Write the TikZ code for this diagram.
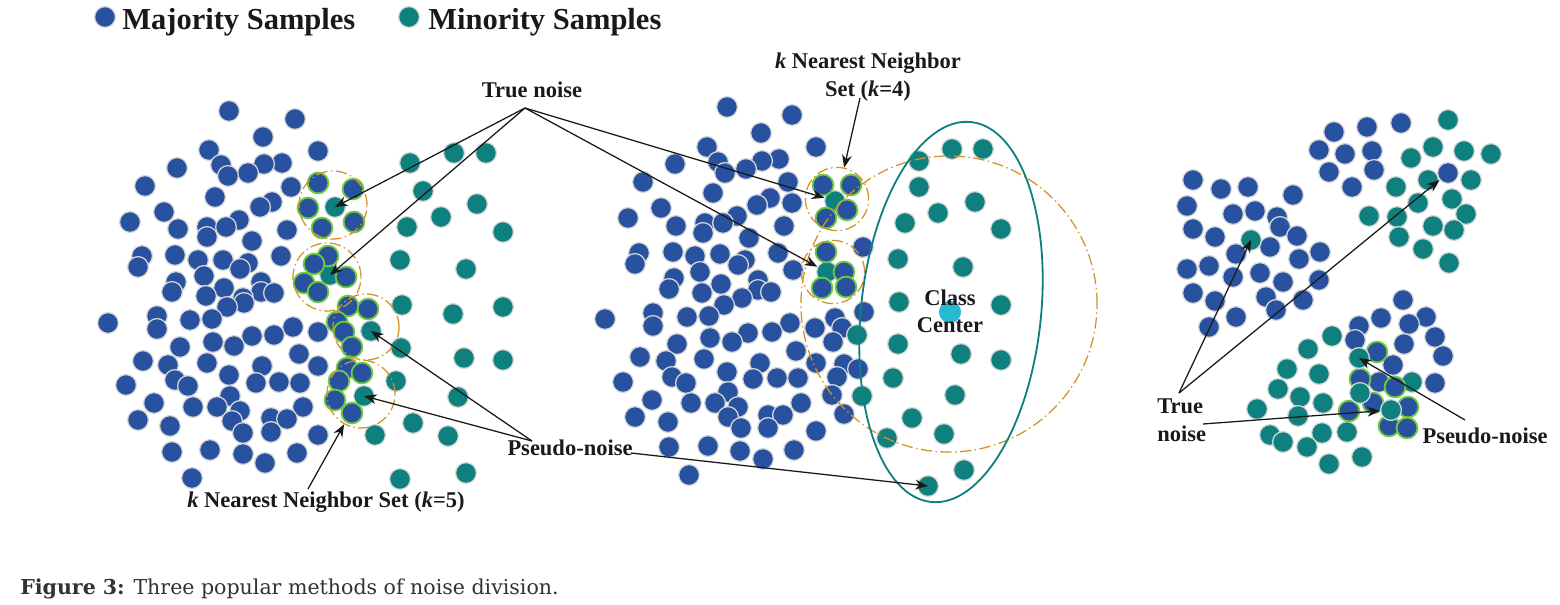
\documentclass[tikz,border=0pt]{standalone}
\usepackage{fontspec}
\setmainfont{Liberation Serif}
\newfontfamily\capfont{DejaVu Serif}
\usetikzlibrary{arrows.meta}

\definecolor{majblue}{RGB}{40,82,160}
\definecolor{minteal}{RGB}{14,128,126}
\definecolor{ringgray}{RGB}{214,214,214}
\definecolor{knngreen}{RGB}{112,200,60}
\definecolor{knnorange}{RGB}{212,146,40}
\definecolor{centercyan}{RGB}{38,186,210}
\definecolor{capgray}{RGB}{50,50,50}

\begin{document}
\begin{tikzpicture}[x=0.025cm, y=-0.025cm,
	dot/.style={circle, inner sep=0pt, minimum size=0.52cm, draw=ringgray, line width=0.9pt},
	maj/.style={dot, fill=majblue},
	mino/.style={dot, fill=minteal},
	majk/.style={dot, fill=majblue, draw=knngreen, line width=1.3pt},
	ring/.style={circle, inner sep=0pt, draw=knnorange, line width=0.9pt, dash pattern=on 8pt off 2.5pt on 1pt off 2.5pt},
	lbl/.style={font=\fontsize{16}{19}\selectfont\bfseries, text=black!90, inner sep=0pt},
	arr/.style={-{Stealth[length=9pt, width=7pt]}, line width=0.9pt, black!90}]
				\useasboundingbox (0,0) rectangle (1560,605);
				
				% legend
				\node[maj] (legmaj) at (105,17) {};
				\node[lbl, font=\fontsize{21.7}{24}\selectfont\bfseries, anchor=base west] (legmajtxt) at (122,29) {Majority Samples};
				\node[mino] (legmin) at (409,17) {};
				\node[lbl, font=\fontsize{21.7}{24}\selectfont\bfseries, anchor=base west] (legmintxt) at (428,29) {Minority Samples};
				
				% left: k nearest neighbor sets
				\foreach \x/\y in {229/111, 295/119, 263/137, 209/150, 318/151, 282/163, 264/164, 221/165, 177/168, 248/173, 228/176, 145/186, 291/187, 215/197, 272/202, 260/207, 164/212, 239/220, 130/222, 207/227, 226/227, 178/229, 287/230, 207/237, 252/241, 175/255, 142/256, 281/256, 198/260, 223/260, 248/263, 138/267, 240/269, 204/276, 176/282, 261/282, 224/288, 172/292, 261/292, 274/293, 206/296, 243/298, 244/303, 227/307, 157/316, 212/319, 190/320, 108/323, 293/327, 157/329, 318/332, 274/335, 252/336, 213/342, 234/346, 180/347, 299/354, 143/361, 207/363, 168/365, 262/366, 318/366, 229/375, 175/380, 279/382, 256/383, 300/383, 126/385, 188/386, 230/396, 154/403, 303/407, 193/407, 217/407, 240/411, 271/418, 287/419, 138/420, 232/421, 170/426, 271/432, 243/433, 318/435, 210/450, 172/452, 297/453, 243/454, 265/463, 192/478}
					\node[maj] at (\x,\y) {};
				\foreach \x/\y in {454/153, 486/153, 410/163, 423/191, 477/204, 441/217, 407/227, 503/232, 400/260, 466/269, 402/305, 503/307, 453/314, 401/348, 464/358, 503/360, 396/381, 458/397, 413/423, 375/435, 448/436, 466/473, 400/479}
					\node[mino] at (\x,\y) {};
				\node[mino] (nzL1) at (335,207) {};
				\node[mino] (nzL2) at (330,275) {};
				\node[mino] (pnL1) at (371,331) {};
				\node[mino] (pnL2) at (364,396) {};
				\foreach \x/\y in {318/183, 353/189, 308/208, 354/222, 322/228, 328/256, 314/264, 346/277, 304/283, 318/292, 348/306, 368/309, 337/322, 344/332, 352/347, 347/368, 362/373, 339/381, 335/400, 352/413}
					\node[majk] at (\x,\y) {};
				\node[ring, minimum size=1.7cm] (ringL1) at (333,205) {};
				\node[ring, minimum size=1.7cm] (ringL2) at (327,277) {};
				\node[ring, minimum size=1.65cm] (ringL3) at (366,327) {};
				\node[ring, minimum size=1.7cm] (ringL4) at (361,394) {};
				
				% middle: class center
				\foreach \x/\y in {727/107, 792/115, 761/133, 707/147, 816/147, 779/159, 762/161, 718/162, 675/164, 746/169, 725/173, 643/182, 788/182, 713/193, 770/198, 792/203, 757/205, 661/208, 737/216, 628/218, 705/223, 723/223, 676/226, 784/226, 703/233, 749/238, 863/247, 673/252, 778/253, 639/253, 720/254, 695/256, 745/260, 635/264, 738/265, 793/270, 700/272, 674/278, 758/280, 721/284, 669/289, 758/290, 771/292, 702/293, 742/298, 724/305, 864/312, 653/313, 709/316, 687/317, 835/318, 605/319, 790/323, 653/326, 815/328, 842/328, 772/332, 748/333, 710/338, 833/342, 732/342, 677/344, 796/351, 640/357, 704/359, 666/361, 760/363, 816/363, 844/364, 858/369, 727/372, 837/377, 672/377, 798/378, 777/378, 753/379, 623/382, 686/383, 728/392, 832/395, 652/400, 691/403, 715/403, 801/403, 738/407, 844/414, 768/415, 783/415, 635/417, 728/417, 668/422, 768/428, 741/428, 816/431, 708/446, 669/447, 794/450, 740/451, 763/459, 689/475}
					\node[maj] at (\x,\y) {};
				\foreach \x/\y in {952/149, 983/149, 919/161, 919/187, 975/202, 938/213, 905/223, 1001/229, 898/259, 963/267, 899/302, 1001/305, 857/335, 898/344, 961/354, 1001/360, 893/378, 955/395, 862/396, 912/418, 944/434, 887/438, 964/470}
					\node[mino] at (\x,\y) {};
				\node[mino] (nzM3) at (928,486) {};
				\node[mino] (nzM1) at (835,201) {};
				\node[mino] (nzM2) at (827,272) {};
				\foreach \x/\y in {823/185, 851/185, 847/210, 826/218, 826/252, 844/272, 822/288, 846/287}
					\node[majk] at (\x,\y) {};
				\node[dot, fill=centercyan, draw=centercyan] (center) at (950,312) {};
				\node[ring, minimum size=1.58cm] (ringM1) at (837,199) {};
				\node[ring, minimum size=1.58cm] (ringM2) at (833,272) {};
				\node[ring, minimum size=7.4cm] (ringC) at (949,304) {};
				\draw[minteal, line width=1.3pt, rotate around={-6:(951,312)}] (951,312) ellipse [x radius=90, y radius=191];
				
				% right: distribution
				\foreach \x/\y in {1193/180, 1248/187, 1221/189, 1293/195, 1187/206, 1255/211, 1233/214, 1277/217, 1280/227, 1193/229, 1297/236, 1215/237, 1270/247, 1320/252, 1236/254, 1299/259, 1209/266, 1187/269, 1260/273, 1233/277, 1319/280, 1283/282, 1193/293, 1266/297, 1303/300, 1215/301, 1276/310, 1236/317, 1209/327, 1401/123, 1367/127, 1334/132, 1319/150, 1372/151, 1345/154, 1374/170, 1329/172, 1352/187, 1403/300, 1426/317, 1381/318, 1409/324, 1359/326, 1435/337, 1355/340, 1404/344, 1443/356, 1393/365, 1379/382, 1435/383}
					\node[maj] at (\x,\y) {};
				\foreach \x/\y in {1448/120, 1433/147, 1464/151, 1491/154, 1411/158, 1428/180, 1471/180, 1396/187, 1452/199, 1418/203, 1466/214, 1369/216, 1397/217, 1433/226, 1454/230, 1399/237, 1423/249, 1449/263, 1332/336, 1308/349, 1287/369, 1319/374, 1278/389, 1412/382, 1300/397, 1323/403, 1257/409, 1298/416, 1347/432, 1322/433, 1270/435, 1283/442, 1307/447, 1362/457, 1329/464}
					\node[mino] at (\x,\y) {};
				\node[mino] (nzR1) at (1251,240) {};
				\node[maj] (nzR2) at (1448,173) {};
				\foreach \x/\y in {1377/352, 1360/379, 1395/387, 1373/403, 1408/407, 1349/411, 1389/426, 1407/428}
					\node[majk] at (\x,\y) {};
				\node[mino] at (1360,393) {};
				\node[mino] (pnR1) at (1359,358) {};
				\node[mino] (nzR3) at (1391,410) {};
				
				% labels
				\node[lbl, anchor=base] (tnoiseL) at (532,97) {True noise};
				\node[lbl, anchor=base] (knnMa) at (868,68) {\textit{k} Nearest Neighbor};
				\node[lbl, anchor=base] (knnMb) at (868,96) {Set (\textit{k}=4)};
				\node[lbl, anchor=base] (classA) at (950,305) {Class};
				\node[lbl, anchor=base] (classB) at (950,332) {Center};
				\node[lbl, anchor=base] (pnoiseL) at (570,455) {Pseudo-noise};
				\node[lbl, anchor=base] (knnL) at (326,507) {\textit{k} Nearest Neighbor Set (\textit{k}=5)};
				\node[lbl, anchor=base west] (tnoiseRa) at (1157,413) {True};
				\node[lbl, anchor=base west] (tnoiseRb) at (1157,441) {noise};
				\node[lbl, anchor=base] (pnoiseR) at (1485,443) {Pseudo-noise};
				\node[anchor=base west, inner sep=0pt, text=capgray, font=\capfont\fontsize{14.6}{17}\selectfont] (caption) at (20,594) {\textbf{Figure 3:} Three popular methods of noise division.};
				
				\coordinate (tnApexL) at (525,108);
				\coordinate (pnApexL) at (532,441);
				\coordinate (pnEndL) at (631,453);
				\coordinate (knnLstart) at (308,489);
				\coordinate (knnMstart) at (860,98);
				\coordinate (tnApexR) at (1179,393);
				\coordinate (tnEndR) at (1203,424);
				\coordinate (pnStartR) at (1465,420);
				
				\draw[arr] (tnApexL) -- (nzL1.center);
				\draw[arr] (tnApexL) -- (nzL2.center);
				\draw[arr] (tnApexL) -- (nzM1);
				\draw[arr] (tnApexL) -- (nzM2);
				\draw[arr] (pnApexL) -- (pnL1.center);
				\draw[arr] (pnApexL) -- (pnL2.center);
				\draw[arr] (pnEndL) -- (nzM3.center);
				\draw[arr] (knnLstart) -- (ringL4);
				\draw[arr] (knnMstart) -- (ringM1);
				\draw[arr] (tnApexR) -- (nzR1.center);
				\draw[arr] (tnApexR) -- (nzR2);
				\draw[arr] (tnEndR) -- (nzR3);
				\draw[arr] (pnStartR) -- (pnR1.center);
\end{tikzpicture}
\end{document}
